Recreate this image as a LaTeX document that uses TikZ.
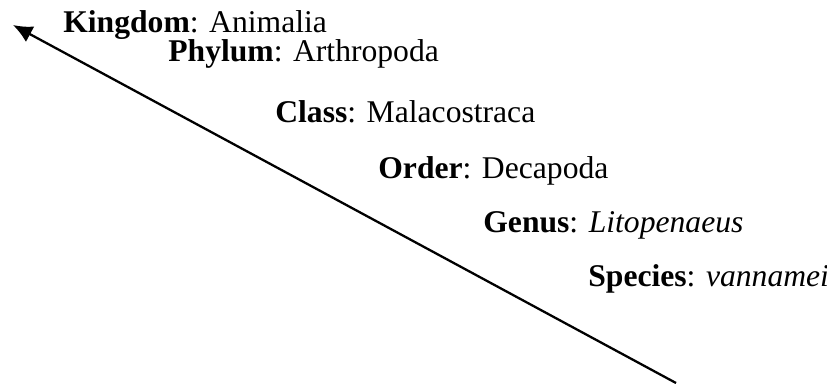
\documentclass[tikz,border=0pt]{standalone}
\usepackage{fontspec}
\setmainfont{Liberation Serif}
\usetikzlibrary{arrows.meta}

\begin{document}
\begin{tikzpicture}[
    x=0.02cm,
    y=-0.02cm,
    >={Latex[length=11pt,width=10pt]},
    taxon/.style={
        anchor=base west,
        inner sep=0pt,
        font=\fontsize{18}{22}\selectfont
    },
    descent/.style={
        ->,
        draw=black,
        line width=1.3pt
    }
]

% Frame of the picture
\useasboundingbox (0,0) rectangle (827,383);

% Row baselines
\def\KingdomY{32}
\def\PhylumY{61}
\def\ClassY{122}
\def\OrderY{178}
\def\GenusY{232}
\def\SpeciesY{286}

% ==================================================
% Taxonomic ranks
% ==================================================

\node[taxon] (kingdom) at (63,\KingdomY)
    {\textbf{Kingdom}: Animalia};

\node[taxon] (phylum) at (168,\PhylumY)
    {\textbf{Phylum}: Arthropoda};

\node[taxon] (class) at (275,\ClassY)
    {\textbf{Class}: Malacostraca};

\node[taxon] (order) at (378,\OrderY)
    {\textbf{Order}: Decapoda};

\node[taxon] (genus) at (483,\GenusY)
    {\textbf{Genus}: \textit{Litopenaeus}};

\node[taxon] (species) at (588,\SpeciesY)
    {\textbf{Species}: \textit{vannamei}};

% ==================================================
% Arrow up the hierarchy
% ==================================================

\coordinate (low) at (676,383);
\coordinate (top) at (13,25);

\draw[descent] (low) -- (top);

\end{tikzpicture}
\end{document}
